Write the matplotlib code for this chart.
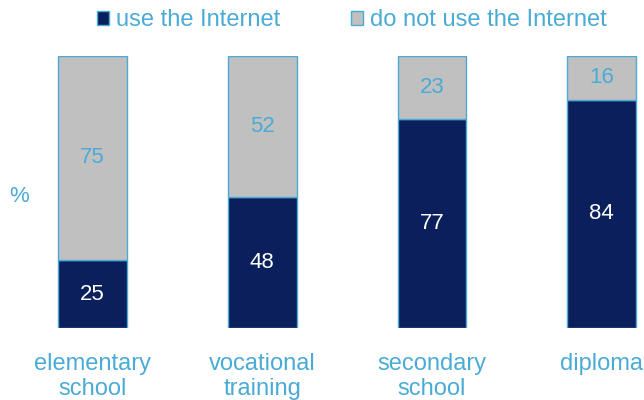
import matplotlib.pyplot as plt
from matplotlib.patches import Patch

plt.rcParams['font.family'] = ['Liberation Sans', 'DejaVu Sans']

categories = ['elementary\nschool', 'vocational\ntraining', 'secondary\nschool', 'diploma']
use_internet = [25, 48, 77, 84]
no_internet = [75, 52, 23, 16]

navy = '#0a1f5c'
grey = '#c0c0c0'
blue = '#4aabd5'

fig = plt.figure(figsize=(6.44, 4.0), dpi=100)
ax = fig.add_axes([0, 0.18, 1, 0.68])

x = range(len(categories))
w = 0.405
ax.bar(x, use_internet, width=w, color=navy, edgecolor=blue, linewidth=1)
ax.bar(x, no_internet, width=w, bottom=use_internet, color=grey, edgecolor=blue, linewidth=1)

for i in x:
    ax.text(i, use_internet[i] / 2, str(use_internet[i]), ha='center', va='center',
            color='white', fontsize=16)
    ax.text(i, use_internet[i] + no_internet[i] / 2, str(no_internet[i]), ha='center',
            va='center', color=blue, fontsize=16)

ax.set_xlim(-0.545, 3.25)
ax.set_ylim(0, 100)
ax.set_xticks(list(x))
ax.set_xticklabels(categories, color=blue, fontsize=17, linespacing=1.17)
ax.tick_params(axis='x', length=0, pad=18)
ax.set_yticks([])
for s in ax.spines.values():
    s.set_visible(False)

fig.text(19 / 644, 1 - 196 / 400, '%', color=blue, fontsize=16, ha='center', va='center')

handles = [Patch(facecolor=navy, edgecolor=blue, label='use the Internet'),
           Patch(facecolor=grey, edgecolor=blue, label='do not use the Internet')]
fig.legend(handles=handles, loc='center', bbox_to_anchor=(0.547, 1 - 20 / 400), ncol=2,
           frameon=False, fontsize=17, labelcolor=blue, handlelength=0.5,
           handleheight=0.55, handletextpad=0.3, columnspacing=3.0, borderpad=0)

fig.savefig('out.png', dpi=100)
